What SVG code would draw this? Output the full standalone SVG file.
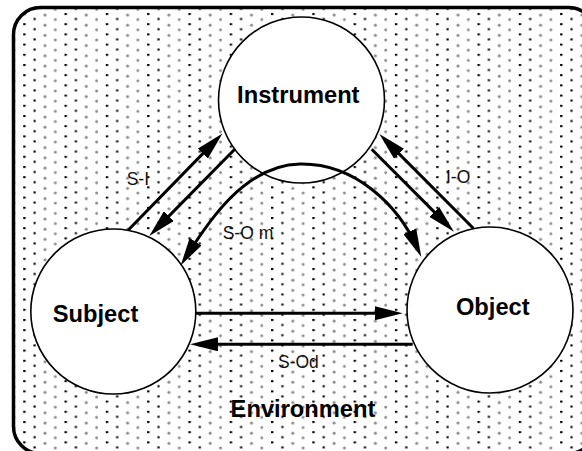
<svg xmlns="http://www.w3.org/2000/svg" width="582" height="451" viewBox="0 0 582 451">
<defs>
<style>
.node{fill:#fff;stroke:#000;stroke-width:1.6}
.bold{font-family:"Liberation Sans",Arial,sans-serif;font-weight:bold;font-size:23.7px;fill:#000;text-anchor:middle}
.lbl{font-family:"Liberation Sans",Arial,sans-serif;font-size:17.5px;fill:#111}
.conn{fill:none;stroke:#000;stroke-width:3}
</style>
<pattern id="dots" patternUnits="userSpaceOnUse" x="23.2" y="13" width="41.3" height="10.2">
<rect x="0" y="0" width="2.4" height="2" fill="#000"/>
<rect x="10.3" y="5" width="2.2" height="2" fill="#000"/>
<circle cx="21.8" cy="2" r="1.5" fill="#8c8c8c"/>
<circle cx="32.1" cy="6.5" r="1.5" fill="#8c8c8c"/>
</pattern>
<marker id="arr" markerUnits="userSpaceOnUse" markerWidth="28" markerHeight="14" refX="18" refY="7" orient="auto-start-reverse" viewBox="0 0 28 14">
<path d="M0,0 L28,7 L0,14 z" fill="#000"/>
</marker>
</defs>
<rect x="0" y="0" width="582" height="451" fill="#fff"/>
<g id="environment">
<rect x="13.5" y="7.5" width="582" height="446" rx="27" ry="27" fill="#fff"/>
<rect x="13.5" y="7.5" width="582" height="446" rx="27" ry="27" fill="url(#dots)" stroke="#000" stroke-width="3.5"/>
<text class="bold" x="303" y="416.7">Environment</text>
</g>
<g id="instrument">
<circle class="node" cx="301.5" cy="100" r="83"/>
<text class="bold" x="298.3" y="103">Instrument</text>
</g>
<g id="subject">
<circle class="node" cx="113.3" cy="311.5" r="82.5"/>
<text class="bold" x="95.5" y="321.7">Subject</text>
</g>
<g id="object">
<circle class="node" cx="490" cy="310" r="83"/>
<text class="bold" x="492.8" y="315">Object</text>
</g>
<g id="connectors">
<line class="conn" x1="128.3" y1="230" x2="215.5" y2="140.65" marker-end="url(#arr)"/>
<line class="conn" x1="235" y1="149" x2="156.3" y2="228.9" marker-end="url(#arr)"/>
<line class="conn" x1="473.3" y1="228.3" x2="386.4" y2="141.1" marker-end="url(#arr)"/>
<line class="conn" x1="371.7" y1="149.3" x2="446.9" y2="224.6" marker-end="url(#arr)"/>
<line class="conn" x1="195" y1="313.3" x2="392.7" y2="313.3" marker-end="url(#arr)"/>
<line class="conn" x1="412.7" y1="344.3" x2="200" y2="344.3" marker-end="url(#arr)"/>
<path class="conn" d="M186,257 C208,222 245,165 300,164 C355,163 398,205 417.2,247.8" marker-start="url(#arr)" marker-end="url(#arr)"/>
<text class="lbl" x="126.7" y="185">S-I</text>
<text class="lbl" x="222.7" y="239.3">S-O m</text>
<text class="lbl" x="446" y="183.3">I-O</text>
<text class="lbl" x="278" y="368">S-Od</text>
</g>
</svg>
